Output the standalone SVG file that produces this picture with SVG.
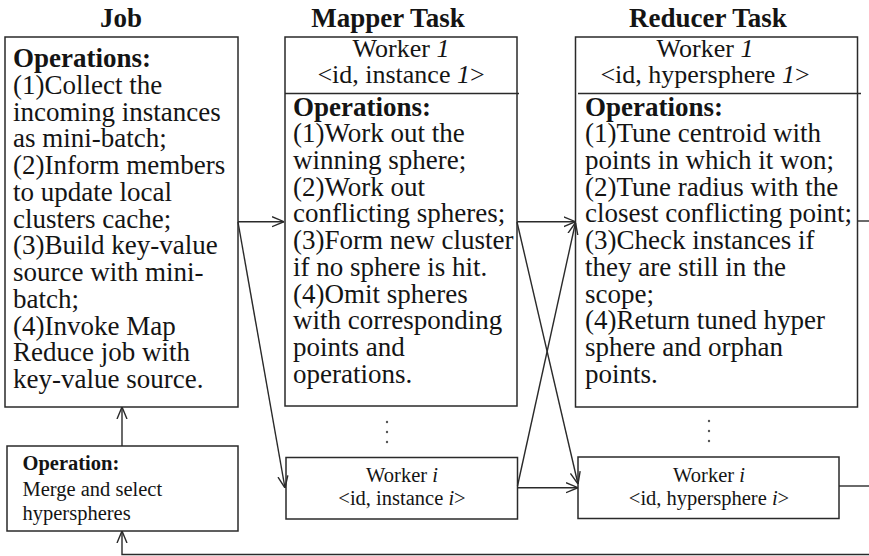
<svg xmlns="http://www.w3.org/2000/svg" width="869" height="556" viewBox="0 0 869 556">
<defs>
<style>
text{font-family:"Liberation Serif","Times New Roman",serif;fill:#141414}
.t{font-size:27px}
.h{font-size:27px;font-weight:bold;text-anchor:middle}
.b{font-weight:bold}
.w{font-size:26px;text-anchor:middle}
.s{font-size:20.5px}
.sc{font-size:20.5px;text-anchor:middle}
.i{font-style:italic}
.box{fill:#fff;stroke:#2a2a2a;stroke-width:1.5}
.ln{fill:none;stroke:#2a2a2a;stroke-width:1.4}
.dot{fill:#555}
</style>
<marker id="ah" viewBox="0 0 12 12" refX="12" refY="6" markerWidth="12" markerHeight="12" markerUnits="userSpaceOnUse" orient="auto">
<path d="M0,1 L12,6 L0,11" fill="none" stroke="#2a2a2a" stroke-width="1.4"/>
</marker>
</defs>
<rect width="869" height="556" fill="#fff"/>

<g id="titles">
<text class="h" x="121" y="27">Job</text>
<text class="h" x="388" y="27">Mapper Task</text>
<text class="h" x="708" y="27">Reducer Task</text>
</g>

<g id="job">
<rect class="box" x="5" y="37" width="233" height="370"/>
<text class="t" x="13">
<tspan class="b" x="13" y="67">Operations:</tspan>
<tspan x="13" y="93.75">(1)Collect the</tspan>
<tspan x="13" y="120.5">incoming instances</tspan>
<tspan x="13" y="147.25">as mini-batch;</tspan>
<tspan x="13" y="174">(2)Inform members</tspan>
<tspan x="13" y="200.75">to update local</tspan>
<tspan x="13" y="227.5">clusters cache;</tspan>
<tspan x="13" y="254.25">(3)Build key-value</tspan>
<tspan x="13" y="281">source with mini-</tspan>
<tspan x="13" y="307.75">batch;</tspan>
<tspan x="13" y="334.5">(4)Invoke Map</tspan>
<tspan x="13" y="361.25">Reduce job with</tspan>
<tspan x="13" y="388">key-value source.</tspan>
</text>
</g>

<g id="mapper1">
<rect class="box" x="285" y="37" width="232" height="369"/>
<line class="ln" x1="285" y1="93.5" x2="519" y2="93.5"/>
<text class="w" x="401" y="57">Worker <tspan class="i">1</tspan></text>
<text class="w" x="401" y="82.5">&lt;id, instance <tspan class="i">1</tspan>&gt;</text>
<text class="t">
<tspan class="b" x="293" y="115.5">Operations:</tspan>
<tspan x="293" y="142.2">(1)Work out the</tspan>
<tspan x="293" y="168.9">winning sphere;</tspan>
<tspan x="293" y="195.6">(2)Work out</tspan>
<tspan x="293" y="222.3">conflicting spheres;</tspan>
<tspan x="293" y="249">(3)Form new cluster</tspan>
<tspan x="293" y="275.8">if no sphere is hit.</tspan>
<tspan x="293" y="302.6">(4)Omit spheres</tspan>
<tspan x="293" y="329.4">with corresponding</tspan>
<tspan x="293" y="356.2">points and</tspan>
<tspan x="293" y="383">operations.</tspan>
</text>
</g>

<g id="mapper-dots">
<circle class="dot" cx="387" cy="422" r="1.2"/>
<circle class="dot" cx="387" cy="432" r="1.2"/>
<circle class="dot" cx="387" cy="442" r="1.2"/>
</g>

<g id="mapperi">
<rect class="box" x="286" y="457.5" width="231.5" height="61.5"/>
<text class="sc" x="402" y="482">Worker <tspan class="i">i</tspan></text>
<text class="sc" x="402" y="505">&lt;id, instance <tspan class="i">i</tspan>&gt;</text>
</g>

<g id="reducer1">
<rect class="box" x="575.5" y="37" width="282" height="370"/>
<line class="ln" x1="578" y1="93.5" x2="861" y2="93.5"/>
<text class="w" x="705" y="57">Worker <tspan class="i">1</tspan></text>
<text class="w" x="705" y="82.5">&lt;id, hypersphere <tspan class="i">1</tspan>&gt;</text>
<text class="t">
<tspan class="b" x="585" y="115.5">Operations:</tspan>
<tspan x="585" y="142.2">(1)Tune centroid with</tspan>
<tspan x="585" y="168.9">points in which it won;</tspan>
<tspan x="585" y="195.6">(2)Tune radius with the</tspan>
<tspan x="585" y="222.3">closest conflicting point;</tspan>
<tspan x="585" y="249">(3)Check instances if</tspan>
<tspan x="585" y="275.8">they are still in the</tspan>
<tspan x="585" y="302.6">scope;</tspan>
<tspan x="585" y="329.4">(4)Return tuned hyper</tspan>
<tspan x="585" y="356.2">sphere and orphan</tspan>
<tspan x="585" y="383">points.</tspan>
</text>
</g>

<g id="reducer-dots">
<circle class="dot" cx="709" cy="421" r="1.2"/>
<circle class="dot" cx="709" cy="431" r="1.2"/>
<circle class="dot" cx="709" cy="441" r="1.2"/>
</g>

<g id="reduceri">
<rect class="box" x="578" y="457" width="261" height="61.5"/>
<text class="sc" x="709" y="482">Worker <tspan class="i">i</tspan></text>
<text class="sc" x="709" y="505">&lt;id, hypersphere <tspan class="i">i</tspan>&gt;</text>
</g>

<g id="operation">
<rect class="box" x="7" y="446" width="231" height="85"/>
<text class="s">
<tspan class="b" x="22.5" y="470">Operation:</tspan>
<tspan x="22.5" y="495.5">Merge and select</tspan>
<tspan x="22.5" y="520">hyperspheres</tspan>
</text>
</g>

<g id="connectors">
<line class="ln" x1="238" y1="221.7" x2="284" y2="221.7" marker-end="url(#ah)"/>
<line class="ln" x1="238" y1="222" x2="285" y2="488" marker-end="url(#ah)"/>
<line class="ln" x1="517" y1="221.7" x2="575.5" y2="221.7" marker-end="url(#ah)"/>
<line class="ln" x1="517" y1="222" x2="578" y2="484" marker-end="url(#ah)"/>
<line class="ln" x1="517.5" y1="486" x2="575.5" y2="222.5" marker-end="url(#ah)"/>
<line class="ln" x1="517.5" y1="487.7" x2="578" y2="487.7" marker-end="url(#ah)"/>
<line class="ln" x1="122" y1="446" x2="122" y2="407" marker-end="url(#ah)"/>
<polyline class="ln" points="869,554.5 122,554.5 122,531" marker-end="url(#ah)"/>
<line class="ln" x1="857.5" y1="221" x2="869" y2="221"/>
<line class="ln" x1="839" y1="486" x2="869" y2="486"/>
</g>
</svg>
